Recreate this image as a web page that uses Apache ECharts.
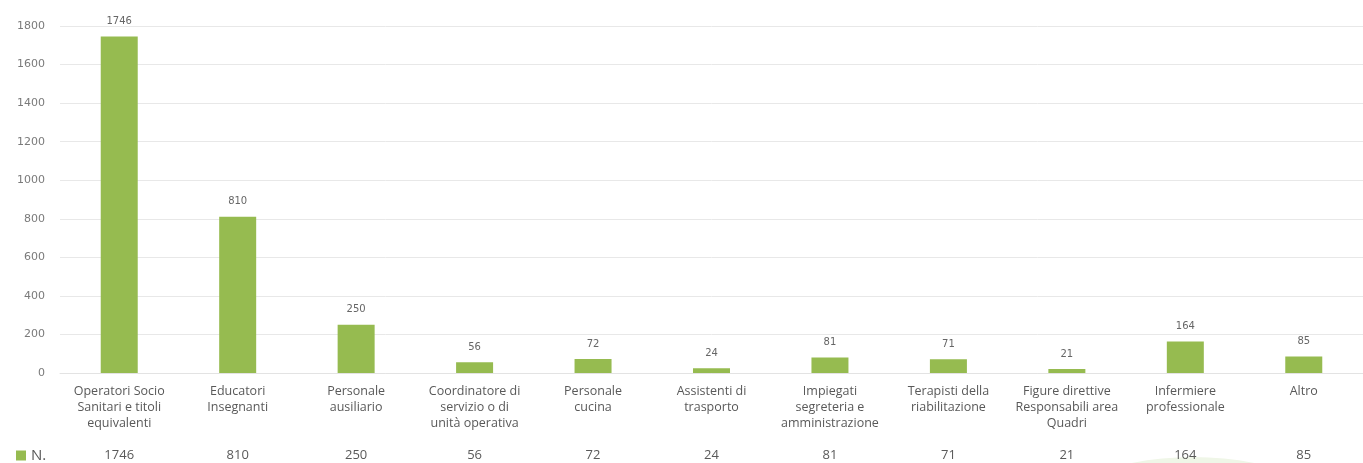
<!DOCTYPE html>
<html>
<head>
<meta charset="utf-8">
<script src="https://cdn.jsdelivr.net/npm/echarts@6/dist/echarts.min.js"></script>
<style>
  html, body { margin: 0; padding: 0; background: #ffffff; }
  #chart { width: 1363px; height: 463px; }
</style>
</head>
<body>
<div id="chart"></div>
<script>
// Staff by professional role
const categories = [
  'Operatori Socio\nSanitari e titoli\nequivalenti',
  'Educatori\nInsegnanti',
  'Personale\nausiliario',
  'Coordinatore di\nservizio o di\nunità operativa',
  'Personale\ncucina',
  'Assistenti di\ntrasporto',
  'Impiegati\nsegreteria e\namministrazione',
  'Terapisti della\nriabilitazione',
  'Figure direttive\nResponsabili area\nQuadri',
  'Infermiere\nprofessionale',
  'Altro'
];
const seriesName = 'N.';
const counts = [1746, 810, 250, 56, 72, 24, 81, 71, 21, 164, 85];
const yTicks = { min: 0, max: 1800, interval: 200 };

const green = '#96bb50';
const textGray = '#595959';

const chart = echarts.init(document.getElementById('chart'), null, { renderer: 'canvas' });

chart.setOption({
  animation: false,
  backgroundColor: '#ffffff',
  grid: { left: 60, right: -7, top: 26, bottom: 90, containLabel: false },
  legend: {
    data: [seriesName],
    left: 16,
    top: 447,
    padding: 0,
    icon: 'rect',
    itemWidth: 10,
    itemHeight: 10,
    itemGap: 6,
    textStyle: { color: textGray, fontSize: 15, lineHeight: 17, fontFamily: 'Open Sans' }
  },
  graphic: [{
    type: 'circle',
    z: -10,
    silent: true,
    shape: { cx: 1193, cy: 772, r: 315 },
    style: { fill: '#eff6e7' }
  }],
  xAxis: [{
    type: 'category',
    data: categories,
    axisLine: { show: true, lineStyle: { color: '#e3e3e3' } },
    axisTick: { show: false },
    axisLabel: {
      interval: 0,
      margin: 10,
      color: textGray,
      fontSize: 12.5,
      lineHeight: 16,
      fontFamily: 'Open Sans',
      align: 'center'
    }
  }, {
    // data table row under the category names
    type: 'category',
    position: 'bottom',
    offset: 64,
    data: categories,
    axisLine: { show: false },
    axisTick: { show: false },
    axisLabel: {
      interval: 0,
      margin: 10,
      color: textGray,
      fontSize: 13,
      lineHeight: 16,
      fontFamily: 'Open Sans',
      formatter: (value, index) => String(counts[index])
    }
  }],
  yAxis: {
    type: 'value',
    min: yTicks.min,
    max: yTicks.max,
    interval: yTicks.interval,
    axisLine: { show: false },
    axisTick: { show: false },
    splitLine: { lineStyle: { color: '#e8e8e8', width: 1 } },
    axisLabel: {
      color: '#7a7a7a',
      fontSize: 11,
      margin: 15,
      fontFamily: 'DejaVu Sans',
      formatter: (v) => String(v)
    }
  },
  series: [{
    name: seriesName,
    type: 'bar',
    xAxisIndex: 0,
    data: counts,
    barWidth: 37,
    itemStyle: { color: green },
    label: {
      show: true,
      position: 'top',
      distance: 10,
      color: '#666666',
      fontSize: 10,
      fontFamily: 'DejaVu Sans'
    }
  }]
});
</script>
</body>
</html>
